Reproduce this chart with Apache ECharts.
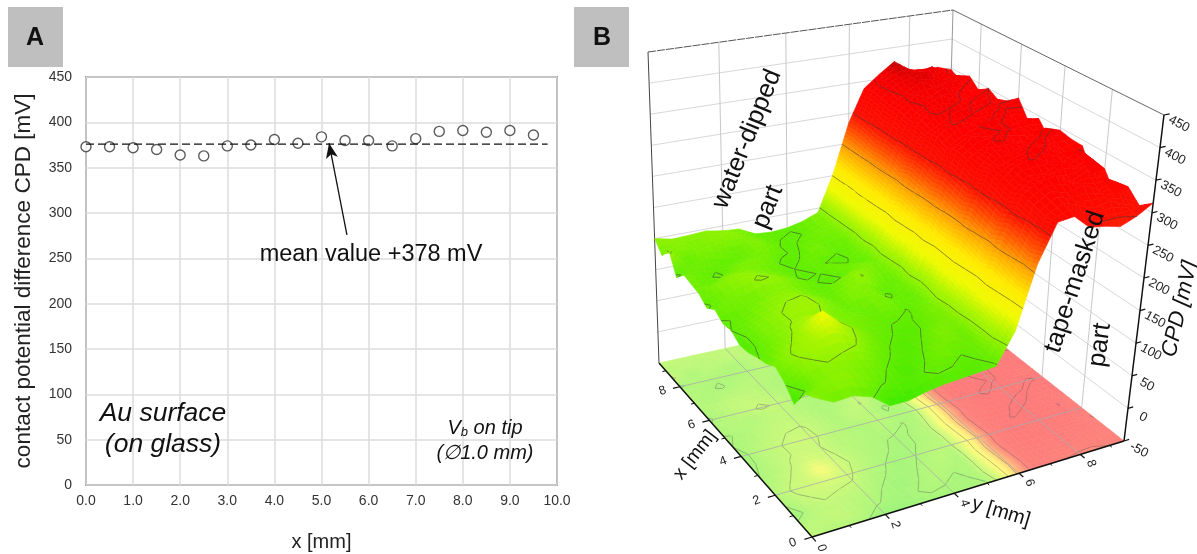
<!DOCTYPE html>
<html><head><meta charset="utf-8">
<style>html,body{margin:0;padding:0;background:#fff}#c{width:1197px;height:554px}</style>
<script src="https://cdn.jsdelivr.net/npm/echarts@6/dist/echarts.min.js"></script>
</head><body><div id="c"></div>
<script>
// ---- panel A data
const pointX = [0,0.5,1,1.5,2,2.5,3,3.5,4,4.5,5,5.5,6,6.5,7,7.5,8,8.5,9,9.5];
const pointCPD = [373,373,372,370,364,363,374,375,381,377,384,380,380,374,382,390,391,389,391,386];
const meanLineX = [0,9.8];
const meanLineCPD = [376,376];
const arrowFrom = [5.54,276];
const arrowTo = [5.16,377];
// ---- panel B data
const gridX = [0,0.5,1,1.5,2,2.5,3,3.5,4,4.5,5,5.5,6,6.5,7,7.5,8,8.5,9,9.5];
const gridY = [0,0.5,1,1.5,2,2.5,3,3.5,4,4.5,5,5.5,6,6.5,7,7.5,8,8.5,9,9.5];
const cpdRows = [
[148,134,136,127,107,107,113,117,119,121,123,169,262,319,322,300,296,290,300,315],
[139,142,148,140,128,118,120,131,126,119,134,176,255,316,331,322,312,318,307,300],
[110,138,146,142,136,124,112,124,138,128,130,181,262,322,338,329,336,324,332,318],
[127,146,154,150,146,132,122,119,130,141,128,186,268,327,342,345,331,343,328,296],
[137,153,158,166,156,138,128,116,124,137,139,178,259,319,340,336,350,338,347,325],
[128,146,158,186,162,144,131,125,118,129,136,184,265,325,345,352,341,335,351,307],
[124,138,152,166,156,140,133,128,122,126,141,190,271,329,338,347,356,344,332,341],
[118,138,148,154,150,138,136,127,135,124,132,187,264,322,348,339,346,353,340,342],
[116,139,148,155,156,140,132,130,141,129,127,181,268,328,343,355,342,338,354,346],
[125,133,144,150,152,143,130,145,138,122,134,193,274,331,349,344,352,347,336,325],
[123,128,140,148,146,137,128,139,151,134,125,186,270,326,341,350,358,341,349,346],
[132,137,131,142,144,134,126,133,146,142,131,192,276,333,352,346,339,356,343,334],
[122,136,146,152,148,136,129,118,127,140,136,197,279,330,344,358,351,342,352,361],
[132,141,150,147,140,132,121,126,134,129,128,189,273,335,356,349,345,359,348,347],
[135,127,138,141,136,129,125,131,124,120,137,195,280,332,349,362,353,346,354,340],
[138,130,122,136,140,134,118,127,139,126,130,199,281,337,358,352,364,349,341,350],
[122,134,128,125,131,139,129,122,133,131,134,201,278,336,354,368,356,362,350,338],
[155,126,141,135,128,143,132,120,128,136,139,198,283,340,360,365,371,353,358,353],
[134,147,139,144,150,138,130,126,122,129,141,202,286,342,361,370,362,368,352,337],
[150,144,145,147,142,140,127,125,127,133,143,204,284,338,358,376,359,353,355,347]
];
const contourLevels = [125,150,200,250,300,350];
const zTicks = [-50,0,50,100,150,200,250,300,350,400,450];
const xTicksMajor = [0,2,4,6,8];
const yTicksMajor = [0,2,4,6,8];
const xTicksMinor = [1,3,5,7,9];
const yTicksMinor = [1,3,5,7,9];

// ---- perspective of panel B: screen position of the eight box corners
const LIM = 9.5, ZMIN = -50, ZMAX = 450;
const floorQuad = [[812,537],[659,363],[945,300],[1124,441]];
const topQuad = [[818,185],[648,52],[953,10],[1164,115]];
function homography(q){
  const [p0,p1,p2,p3]=q;
  const dx1=p1[0]-p2[0],dx2=p3[0]-p2[0],sx=p0[0]-p1[0]+p2[0]-p3[0];
  const dy1=p1[1]-p2[1],dy2=p3[1]-p2[1],sy=p0[1]-p1[1]+p2[1]-p3[1];
  const d=dx1*dy2-dx2*dy1;
  const g=(sx*dy2-dx2*sy)/d,h=(dx1*sy-sx*dy1)/d;
  const a=p1[0]-p0[0]+g*p1[0],b=p3[0]-p0[0]+h*p3[0],c=p0[0];
  const e=p1[1]-p0[1]+g*p1[1],f=p3[1]-p0[1]+h*p3[1],i=p0[1];
  return (u,v)=>{const w=g*u+h*v+1;return [(a*u+b*v+c)/w,(e*u+f*v+i)/w];};
}
const Hf=homography(floorQuad),Ht=homography(topQuad);
function project(x,y,z){
  const u=x/LIM,v=y/LIM,t=(z-ZMIN)/(ZMAX-ZMIN);
  const F=Hf(u,v),T=Ht(u,v);
  return [F[0]+(T[0]-F[0])*t,F[1]+(T[1]-F[1])*t];
}
// ---- colour map
const cmap=[[50,[0,200,60]],[110,[70,235,0]],[135,[115,240,0]],[160,[170,245,0]],[182,[240,250,0]],[215,[255,235,0]],[245,[255,170,0]],[275,[255,80,0]],[300,[252,15,0]],[350,[252,0,0]],[364,[240,0,0]],[376,[185,0,0]]];
function colorOf(z,mix){
  let c=cmap[cmap.length-1][1];
  if(z<=cmap[0][0])c=cmap[0][1];
  else for(let k=1;k<cmap.length;k++){ if(z<=cmap[k][0]){
    const a=cmap[k-1],b=cmap[k],t=(z-a[0])/(b[0]-a[0]);
    c=a[1].map((v,n)=>v+(b[1][n]-v)*t);break;}}
  if(mix)c=c.map(v=>v+(255-v)*mix);
  return 'rgb('+c.map(v=>Math.round(v)).join(',')+')';
}
const quads=[];
for(let i=gridX.length-2;i>=0;i--)for(let j=gridY.length-2;j>=0;j--)quads.push([i,j]);

function contourSegs(i,j){
  const z00=cpdRows[i][j],z10=cpdRows[i+1][j],z11=cpdRows[i+1][j+1],z01=cpdRows[i][j+1];
  const x0=gridX[i],x1=gridX[i+1],y0=gridY[j],y1=gridY[j+1];
  const out=[];
  contourLevels.forEach(l=>{
    const pts=[];
    const e=(za,zb,xa,ya,xb,yb)=>{ if((za<l)!==(zb<l)){const t=(l-za)/(zb-za);pts.push([xa+(xb-xa)*t,ya+(yb-ya)*t,l]);}};
    e(z00,z10,x0,y0,x1,y0);e(z10,z11,x1,y0,x1,y1);e(z11,z01,x1,y1,x0,y1);e(z01,z00,x0,y1,x0,y0);
    for(let k=0;k+1<pts.length;k+=2)out.push([pts[k],pts[k+1]]);
  });
  return out;
}
function renderCell(floor){
  return function(params,api){
    const [i,j]=quads[params.dataIndex];
    const P=(x,y,z)=>api.coord(project(x,y,floor?ZMIN:z));
    const z00=cpdRows[i][j],z10=cpdRows[i+1][j],z11=cpdRows[i+1][j+1],z01=cpdRows[i][j+1];
    const x0=gridX[i],dx=gridX[i+1]-x0,y0=gridY[j],dy=gridY[j+1]-y0;
    const Z=(a,b)=>z00*(1-a)*(1-b)+z10*a*(1-b)+z11*a*b+z01*(1-a)*b;
    const ch=[];
    const spanA=Math.max(Math.abs(z10-z00),Math.abs(z11-z01));
    const spanB=Math.max(Math.abs(z01-z00),Math.abs(z11-z10));
    const NA=Math.min(12,Math.max(2,Math.ceil(spanA/8)));
    const NB=Math.min(14,Math.max(2,Math.ceil(spanB/6)));
    for(let a=NA-1;a>=0;a--)for(let b=NB-1;b>=0;b--){
      const a0=a/NA,a1=(a+1)/NA,b0=b/NB,b1=(b+1)/NB;
      const col=colorOf(Z((a0+a1)/2,(b0+b1)/2),floor?0.48:0);
      const q=[[a0,b0],[a1,b0],[a1,b1],[a0,b1]].map(c=>P(x0+dx*c[0],y0+dy*c[1],Z(c[0],c[1])));
      ch.push({type:'polygon',shape:{points:q},style:{fill:col,stroke:col,lineWidth:0.6}});
    }
    // faint mesh of the surface
    const mesh=[[0,1],[0,0],[1,0]].map(c=>P(x0+dx*c[0],y0+dy*c[1],Z(c[0],c[1])));
    ch.push({type:'polyline',shape:{points:mesh},style:{fill:null,stroke:floor?'rgba(150,150,150,0.10)':'rgba(200,200,200,0.12)',lineWidth:0.5}});
    contourSegs(i,j).forEach(s=>{
      const p=P(s[0][0],s[0][1],s[0][2]),q=P(s[1][0],s[1][1],s[1][2]);
      ch.push({type:'line',shape:{x1:p[0],y1:p[1],x2:q[0],y2:q[1]},
        style:{stroke:floor?'rgba(90,90,90,0.5)':'rgba(60,60,60,0.7)',lineWidth:0.8}});
    });
    return {type:'group',children:ch};
  };
}
const seg=(api,a,b,stroke,w,dash)=>{const p=api.coord(a),q=api.coord(b);
  return {type:'line',shape:{x1:p[0],y1:p[1],x2:q[0],y2:q[1]},style:{stroke:stroke,lineWidth:w,lineDash:dash||null}};};
const label=(api,pt,dx,dy,text,rotDeg,size)=>{const p=api.coord(pt);
  return {type:'text',x:p[0]+dx,y:p[1]+dy,rotation:rotDeg*Math.PI/180,
    style:{text:text,fill:'#222',font:size+'px "Liberation Sans", Arial, sans-serif',align:'center',verticalAlign:'middle'}};};

function renderWalls(params,api){
  const ch=[];
  zTicks.slice(1,-1).forEach(z=>{
    ch.push(seg(api,project(LIM,0,z),project(LIM,LIM,z),'#d8d8d8',1));
    ch.push(seg(api,project(LIM,LIM,z),project(0,LIM,z),'#d8d8d8',1));
  });
  yTicksMajor.slice(1).forEach(y=>ch.push(seg(api,project(LIM,y,ZMIN),project(LIM,y,ZMAX),'#c8c8c8',1)));
  xTicksMajor.slice(1).forEach(x=>ch.push(seg(api,project(x,LIM,ZMIN),project(x,LIM,ZMAX),'#c8c8c8',1)));
  ch.push(seg(api,project(LIM,LIM,ZMIN),project(LIM,LIM,ZMAX),'#999',1));
  ch.push(seg(api,project(LIM,0,ZMAX),project(LIM,LIM,ZMAX),'#555',1,[8,1]));
  ch.push(seg(api,project(LIM,LIM,ZMAX),project(0,LIM,ZMAX),'#666',1));
  ch.push(seg(api,project(LIM,0,ZMIN),project(LIM,0,ZMAX),'#444',1));
  return {type:'group',children:ch};
}
function renderFloorGrid(params,api){
  const ch=[];
  xTicksMajor.slice(1).forEach(x=>ch.push(seg(api,project(x,0,ZMIN),project(x,LIM,ZMIN),'rgba(170,170,170,0.75)',1)));
  yTicksMajor.slice(1).forEach(y=>ch.push(seg(api,project(0,y,ZMIN),project(LIM,y,ZMIN),'rgba(170,170,170,0.75)',1)));
  return {type:'group',children:ch};
}
function renderAxes(params,api){
  const ch=[];
  ch.push(seg(api,project(0,0,ZMIN),project(LIM,0,ZMIN),'#111',1.5));
  ch.push(seg(api,project(0,0,ZMIN),project(0,LIM,ZMIN),'#111',1.5));
  ch.push(seg(api,project(0,LIM,ZMIN),project(0,LIM,ZMAX),'#111',1.5));
  xTicksMajor.forEach(x=>ch.push(seg(api,project(x,0,ZMIN),project(x,-0.2,ZMIN),'#111',1.2)));
  xTicksMinor.forEach(x=>ch.push(seg(api,project(x,0,ZMIN),project(x,-0.1,ZMIN),'#111',1)));
  yTicksMajor.forEach(y=>ch.push(seg(api,project(0,y,ZMIN),project(-0.2,y,ZMIN),'#111',1.2)));
  yTicksMinor.forEach(y=>ch.push(seg(api,project(0,y,ZMIN),project(-0.1,y,ZMIN),'#111',1)));
  zTicks.forEach(z=>ch.push(seg(api,project(0,LIM,z),project(0,LIM+0.18,z),'#111',1.2)));
  xTicksMajor.forEach(x=>ch.push(label(api,project(x,-0.5,ZMIN),0,0,String(x),20,12.5)));
  yTicksMajor.forEach(y=>ch.push(label(api,project(-0.5,y,ZMIN),0,0,String(y),-72,12.5)));
  zTicks.forEach(z=>ch.push(label(api,project(0,LIM,z),15,9,String(z),-28,13)));
  return {type:'group',children:ch};
}

const FONT='"Liberation Sans", Arial, sans-serif';
const txt=(text,x,y,rotDeg,size,style)=>({type:'text',x:x,y:y,rotation:(rotDeg||0)*Math.PI/180,z:50,silent:true,
  style:{text:text,fill:'#111',font:(style||'')+' '+size+'px '+FONT,align:'center',verticalAlign:'middle'}});

const chart=echarts.init(document.getElementById('c'),null,{renderer:'canvas'});
const hidden={show:false,type:'value'};
const custom=(render,z,n)=>({type:'custom',xAxisIndex:1,yAxisIndex:1,renderItem:render,data:n,z:z,silent:true,animation:false,progressive:0,clip:false});
const one=[[0,0]];
chart.setOption({
  animation:false,
  backgroundColor:'#fff',
  grid:[
    {left:86,top:77,width:471,height:408,show:true,borderColor:'#555',borderWidth:1.6,backgroundColor:'#fff',containLabel:false,outerBoundsMode:'none'},
    {left:0,top:0,width:1197,height:554,show:false,outerBoundsMode:'none'}
  ],
  xAxis:[
    {type:'value',gridIndex:0,min:0,max:10,interval:1,
     name:'x [mm]',nameLocation:'middle',nameGap:47,nameTextStyle:{fontSize:20,color:'#222',fontFamily:FONT},
     axisLine:{show:false},axisTick:{show:false},
     axisLabel:{margin:9,fontSize:14,color:'#333',fontFamily:FONT,formatter:v=>v.toFixed(1)},
     splitLine:{show:true,lineStyle:{color:'#dcdcdc',width:1.5}}},
    Object.assign({},hidden,{gridIndex:1,min:0,max:1197})
  ],
  yAxis:[
    {type:'value',gridIndex:0,min:0,max:450,interval:50,
     name:'contact potential difference CPD [mV]',nameLocation:'middle',nameGap:51,nameRotate:90,nameTextStyle:{fontSize:22.5,color:'#222',fontFamily:FONT},
     axisLine:{show:false},axisTick:{show:false},
     axisLabel:{margin:14,fontSize:14,color:'#333',fontFamily:FONT},
     splitLine:{show:true,lineStyle:{color:'#dcdcdc',width:1.5}}},
    Object.assign({},hidden,{gridIndex:1,min:0,max:554,inverse:true})
  ],
  series:[
    {type:'scatter',xAxisIndex:0,yAxisIndex:0,z:3,symbol:'circle',symbolSize:10,
     itemStyle:{color:'#fff',borderColor:'#333',borderWidth:1.4},
     data:pointX.map((x,i)=>[x,pointCPD[i]])},
    {type:'line',xAxisIndex:0,yAxisIndex:0,z:4,symbol:'none',silent:true,
     lineStyle:{color:'#111',width:1.4,type:[8,4]},
     data:meanLineX.map((x,i)=>[x,meanLineCPD[i]]),
     markLine:{silent:true,symbol:['none','arrow'],symbolSize:[9,15],label:{show:false},
       lineStyle:{color:'#111',width:1.3,type:'solid'},
       data:[[{coord:arrowFrom},{coord:arrowTo}]]}},
    custom(renderWalls,5,one),
    custom(renderCell(true),6,quads),
    custom(renderFloorGrid,7,one),
    custom(renderCell(false),8,quads),
    custom(renderAxes,9,one)
  ],
  graphic:[
    {type:'rect',shape:{x:8,y:7,width:55,height:60},style:{fill:'#bfbfbf'},silent:true},
    {type:'rect',shape:{x:574,y:7,width:55,height:60},style:{fill:'#bfbfbf'},silent:true},
    txt('A',35,38,0,25,'bold'),
    txt('B',602,38,0,25,'bold'),
    txt('mean value +378 mV',371,255,0,23.5),
    txt('Au surface',163,414,0,26.5,'italic'),
    txt('(on glass)',163,445,0,26.5,'italic'),
    {type:'text',x:485,y:428,z:50,silent:true,style:{text:'{a|V}{b|b}{a| on tip}',align:'center',verticalAlign:'middle',
      rich:{a:{font:'italic 20px '+FONT,fill:'#111'},b:{font:'italic 13px '+FONT,fill:'#111',padding:[8,0,0,0]}}}},
    txt('(\u22051.0 mm)',485,453,0,20,'italic'),
    txt('water-dipped',747,139,68,25.5),
    txt('part',768,207,68,25.5),
    txt('tape-masked',1075,282,72,25.5),
    txt('part',1100,345,82,25.5),
    txt('x [mm]',695,455,52,19),
    txt('y [mm]',1001,512,-17,20),
    txt('CPD [mV]',1180,309,77,22,'italic')
  ]
});
</script></body></html>
